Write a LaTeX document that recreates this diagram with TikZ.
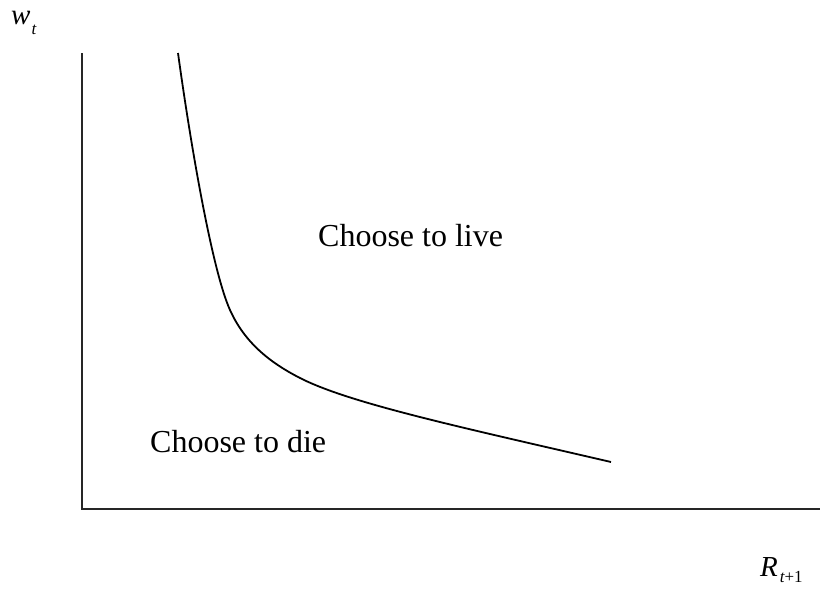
\documentclass[tikz,border=0pt]{standalone}
\usepackage{fontspec}
\setmainfont{Liberation Serif}
\begin{document}
\begin{tikzpicture}[x=1pt,y=-1pt,
  axis/.style={line width=2pt,draw=black!85},
  curvestyle/.style={line width=1.8pt,line join=round},
  lbl/.style={inner sep=0pt,anchor=base west,font=\fontsize{32}{38}\selectfont},
  axlbl/.style={inner sep=0pt,anchor=base west,font=\fontsize{29}{34}\selectfont}]
\useasboundingbox (0,0) rectangle (820,589);
\coordinate (top) at (82,53);
\coordinate (origin) at (82,509);
\coordinate (xend) at (820,509);
\draw[axis] (top) -- (origin) -- (xend);
\coordinate (c0) at (178,53);
\coordinate (c1) at (230,310);
\coordinate (c2) at (300,378);
\coordinate (c3) at (611,462);
\draw[curvestyle] (c0) .. controls (190.4,143) and (212,270) .. (c1)
  .. controls (244.3,341.8) and (268.75,362) .. (c2)
  .. controls (350,403.5) and (461,427.2) .. (c3);
\node[lbl] (live) at (318,246) {Choose to live};
\node[lbl] (die) at (150,452) {Choose to die};
\node[axlbl] (wt) at (11,24) {\itshape w\kern1pt\raisebox{-10pt}{\fontsize{17}{17}\selectfont t}};
\node[axlbl] (R) at (760,576) {\itshape R\kern2pt\raisebox{-6pt}{\fontsize{17}{17}\selectfont t\upshape +1}};
\end{tikzpicture}
\end{document}
